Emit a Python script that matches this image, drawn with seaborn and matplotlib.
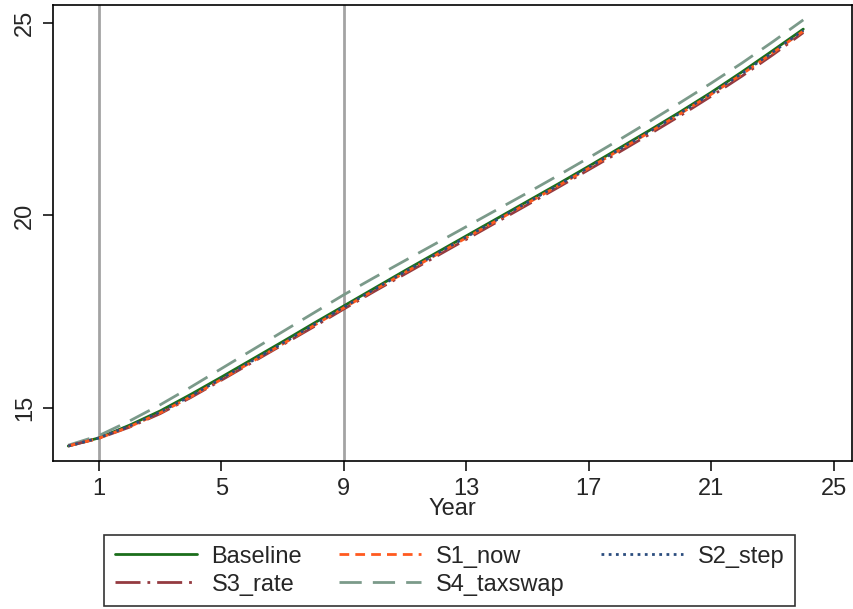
import matplotlib
matplotlib.use("Agg")
import matplotlib.pyplot as plt
import seaborn as sns

sns.set_style("white")
plt.rcParams["font.family"] = ["Liberation Sans", "DejaVu Sans"]

years = list(range(0, 25))

baseline = [14.01, 14.22, 14.55, 14.92, 15.35, 15.80, 16.26, 16.72, 17.19, 17.65,
            18.11, 18.57, 19.02, 19.47, 19.92, 20.37, 20.82, 21.28, 21.75, 22.22,
            22.70, 23.20, 23.73, 24.28, 24.84]
s1_now = [14.01, 14.21, 14.51, 14.87, 15.29, 15.74, 16.20, 16.66, 17.13, 17.60,
          18.06, 18.52, 18.97, 19.42, 19.87, 20.32, 20.77, 21.23, 21.70, 22.17,
          22.65, 23.15, 23.67, 24.22, 24.79]
s2_step = [14.01, 14.22, 14.53, 14.89, 15.31, 15.76, 16.22, 16.68, 17.15, 17.62,
           18.08, 18.54, 18.99, 19.44, 19.89, 20.34, 20.79, 21.25, 21.72, 22.19,
           22.67, 23.17, 23.69, 24.24, 24.81]
s3_rate = [14.01, 14.21, 14.50, 14.85, 15.27, 15.72, 16.18, 16.64, 17.10, 17.57,
           18.03, 18.48, 18.93, 19.38, 19.83, 20.28, 20.73, 21.19, 21.65, 22.12,
           22.60, 23.10, 23.62, 24.17, 24.75]
s4_taxswap = [14.03, 14.28, 14.66, 15.08, 15.54, 16.02, 16.50, 16.98, 17.46, 17.94,
              18.39, 18.83, 19.27, 19.71, 20.15, 20.59, 21.04, 21.50, 21.97, 22.45,
              22.94, 23.44, 23.96, 24.51, 25.08]

x_ticks = [1, 5, 9, 13, 17, 21, 25]
y_ticks = [15, 20, 25]
ref_years = [1, 9]

series = [
    ("Baseline", baseline, "#1b6e1b", "-"),
    ("S3_rate", s3_rate, "#943a40", (0, (9, 2.5, 1, 2.5))),
    ("S1_now", s1_now, "#ff5a1f", (0, (3.5, 2.2))),
    ("S4_taxswap", s4_taxswap, "#7b9a8a", (0, (8, 4))),
    ("S2_step", s2_step, "#2b4d7e", (0, (1, 1.6))),
]

FS = 17
LW = 2.0

fig = plt.figure(figsize=(8.54, 6.09), dpi=100)
ax = fig.add_axes([0.062, 0.243, 0.936, 0.749])

for xv in ref_years:
    ax.axvline(xv, color="#a3a3a3", lw=2.0, zorder=1)

# draw in the visual stacking order, keep legend order separately
draw_order = ["S4_taxswap", "S3_rate", "S1_now", "S2_step", "Baseline"]
lookup = {name: (vals, col, ls) for name, vals, col, ls in series}
for name in draw_order:
    vals, col, ls = lookup[name]
    sns.lineplot(x=years, y=vals, ax=ax, color=col, linestyle=ls, lw=LW,
                 zorder=3 if name != "Baseline" else 2.5)

ax.set_xlim(-0.5, 25.6)
ax.set_ylim(13.62, 25.47)
ax.set_xticks(x_ticks)
ax.set_yticks(y_ticks)
ax.tick_params(axis="both", direction="out", length=7, width=1.1, color="black",
               labelsize=FS, bottom=True, left=True, pad=5)
for lab in ax.get_yticklabels():
    lab.set_rotation(90)
    lab.set_va("center")
ax.set_xlabel("Year", fontsize=FS, labelpad=-1)
ax.set_ylabel("")
for sp in ax.spines.values():
    sp.set_color("black")
    sp.set_linewidth(1.2)

handles = []
labels = []
for name, vals, col, ls in series:
    h, = ax.plot([], [], color=col, linestyle=ls, lw=LW)
    handles.append(h)
    labels.append(name)

leg = fig.legend(handles, labels, ncol=3, loc="upper left",
                 bbox_to_anchor=(104 / 854, 1 - 535 / 609), fontsize=FS,
                 frameon=True, fancybox=False, edgecolor="black",
                 handlelength=3.5, handletextpad=0.6, columnspacing=1.55,
                 borderpad=0.45, labelspacing=0.25, borderaxespad=0)
leg.get_frame().set_linewidth(1.2)

fig.savefig("out.png", dpi=100)
